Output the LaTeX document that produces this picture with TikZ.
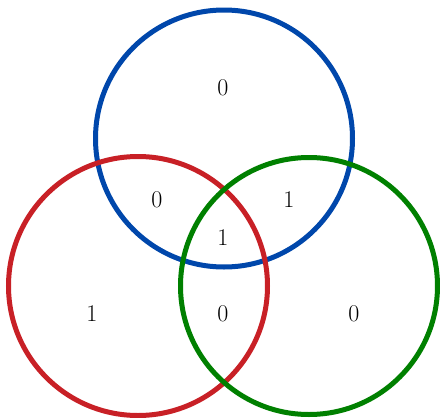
\documentclass[tikz,border=0pt]{standalone}
\definecolor{cblue}{RGB}{0,71,171}
\definecolor{cred}{RGB}{200,32,38}
\definecolor{cgreen}{RGB}{0,128,0}
\begin{document}
\begin{tikzpicture}[x=1pt,y=-1pt,
  ring/.style={line width=5pt},
  lab/.style={font=\fontsize{24}{28}\selectfont, inner sep=0pt}]
\useasboundingbox (0,0) rectangle (440,418);
\draw[ring,cblue] (224,138.5) circle[radius=128.5];
\draw[ring,cred] (138,286) circle[radius=129.5];
\draw[ring,cgreen] (309,286) circle[radius=128.5];
\node[lab] (a) at (223,88) {0};
\node[lab] (b) at (157,200) {0};
\node[lab] (c) at (289,200) {1};
\node[lab] (d) at (223,238) {1};
\node[lab] (e) at (92,314) {1};
\node[lab] (f) at (223,314) {0};
\node[lab] (g) at (354,314) {0};
\end{tikzpicture}
\end{document}
